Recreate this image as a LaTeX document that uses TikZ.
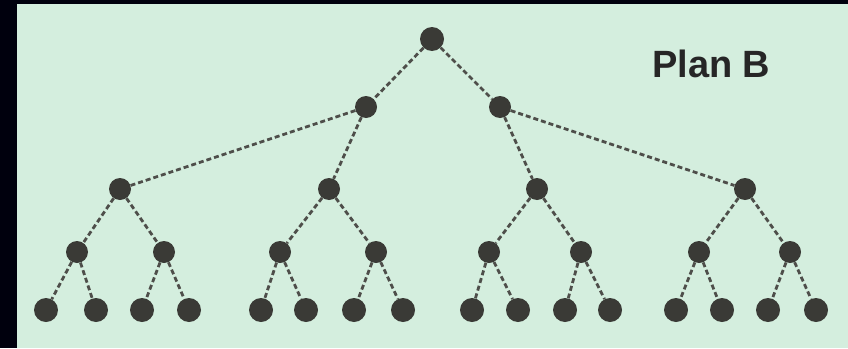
\documentclass[tikz,border=0pt]{standalone}
\usepackage{fontspec}
\setsansfont{Liberation Sans}
\usepackage{tikz}
\definecolor{mint}{RGB}{212,238,222}
\definecolor{dot}{RGB}{58,58,54}
\tikzset{
knot/.style={circle,fill=dot,draw=none,minimum width=22pt,minimum height=22pt,inner sep=0pt},
link/.style={draw=dot!90,line width=2.8pt,dash pattern=on 5pt off 3pt},
plantitle/.style={font=\sffamily\bfseries\fontsize{38}{40}\selectfont,text=black!85,inner sep=0pt}
}
\begin{document}
\begin{tikzpicture}[x=1pt,y=-1pt]
\fill[black!95!blue] (0,0) rectangle (848,348);
\fill[mint] (17,4) rectangle (848,348);
\useasboundingbox (0,0) rectangle (848,348);
\node[plantitle,anchor=west] (title) at (652,64) {Plan B};
\node[knot,minimum width=24pt,minimum height=24pt] (r) at (432,39) {};
\node[knot] (a1) at (366,107) {};
\node[knot] (a2) at (500,107) {};
\node[knot] (b1) at (120,189) {};
\node[knot] (b2) at (329,189) {};
\node[knot] (b3) at (537,189) {};
\node[knot] (b4) at (745,189) {};
\foreach \i/\x in {1/77,2/164,3/280,4/376,5/489,6/581,7/699,8/790}
  \node[knot] (c\i) at (\x,252) {};
\foreach \i/\x in {1/46,2/96,3/142,4/189,5/261,6/306,7/354,8/403,9/472,10/518,11/565,12/610,13/676,14/722,15/768,16/816}
  \node[knot,minimum height=24pt] (d\i) at (\x,310) {};
\draw[link] (r) -- (a1);
\draw[link] (r) -- (a2);
\draw[link] (a1) -- (b1);
\draw[link] (a1) -- (b2);
\draw[link] (a2) -- (b3);
\draw[link] (a2) -- (b4);
\foreach \p/\k in {1/1,1/2,2/3,2/4,3/5,3/6,4/7,4/8}
  \draw[link] (b\p) -- (c\k);
\foreach \k [evaluate=\k as \m using int(2*\k-1), evaluate=\k as \n using int(2*\k)] in {1,...,8}{
  \draw[link] (c\k) -- (d\m);
  \draw[link] (c\k) -- (d\n);
}
\end{tikzpicture}
\end{document}
